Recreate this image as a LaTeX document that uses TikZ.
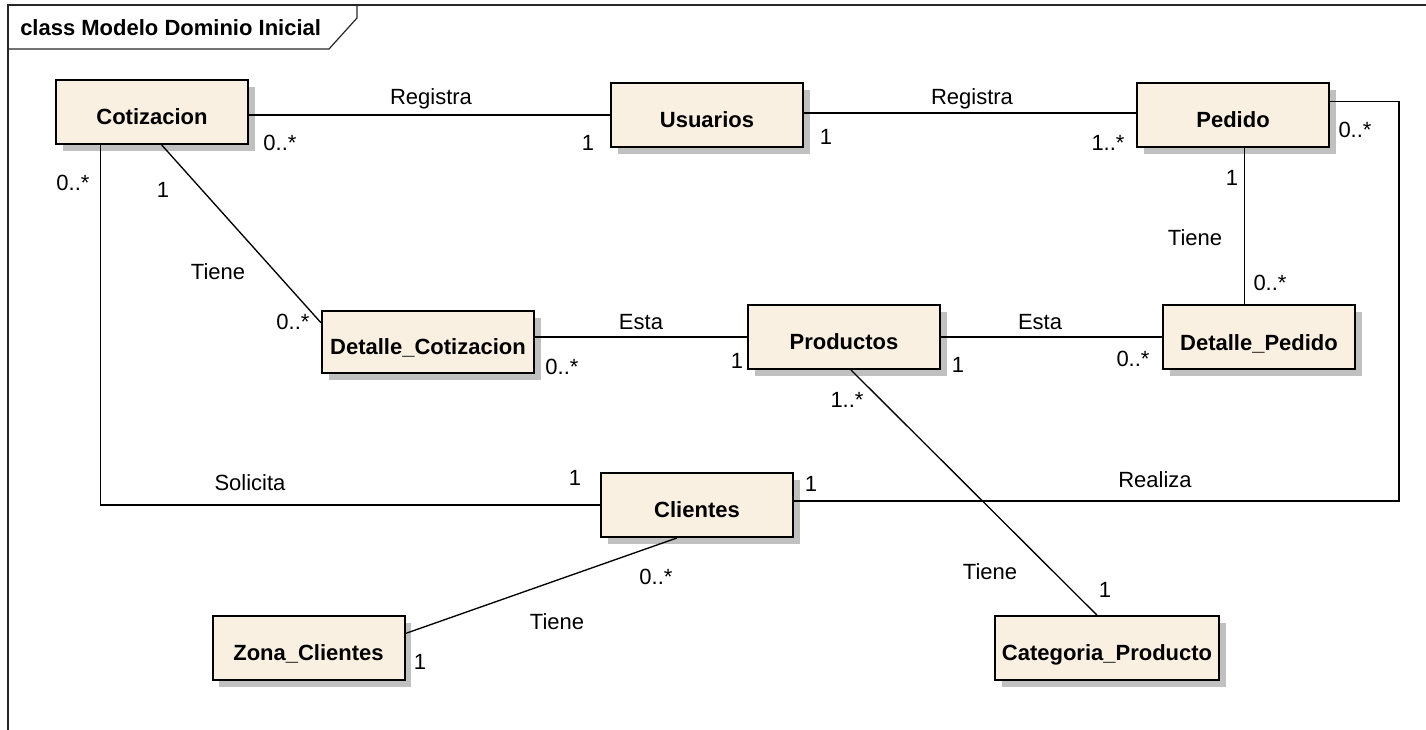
\documentclass[tikz,border=0pt]{standalone}
\usepackage{fontspec}
\setmainfont{Liberation Sans}
\usetikzlibrary{shadows,calc}
\definecolor{clsfill}{RGB}{250,240,226}
\definecolor{shadowgray}{RGB}{192,192,192}
\tikzset{
  cls/.style={draw=black, line width=1.5pt, fill=clsfill, inner sep=0pt,
    minimum width=144pt, minimum height=48pt, text height=19pt, text depth=0pt,
    font=\fontsize{16.5pt}{19pt}\selectfont\bfseries,
    drop shadow={shadow xshift=5pt, shadow yshift=-5pt, fill=shadowgray, opacity=1}},
  assoc/.style={draw=black, line width=1pt},
  lbl/.style={inner sep=0pt, font=\fontsize{16.5pt}{19pt}\selectfont},
  framel/.style={draw=black!85, line width=0.9pt}
}
\begin{document}
\begin{tikzpicture}[x=0.75pt, y=-0.75pt]
\useasboundingbox (0,0) rectangle (1426,730);

% diagram frame with name tab
\draw[framel] (1426,5) -- (8,5) -- (8,730);
\draw[framel] (8,49) -- (329,49) -- (357,18) -- (357,5);
\node[lbl, anchor=west, font=\fontsize{16.5pt}{19pt}\selectfont\bfseries] (title) at (20,28) {class Modelo Dominio Inicial};

% classes
\node[cls] (cot) at (152,112) {Cotizacion};
\node[cls] (usu) at (707,115) {Usuarios};
\node[cls] (ped) at (1233,115) {Pedido};
\node[cls, minimum width=159pt, minimum height=46.5pt] (dc) at (428,342) {Detalle\_Cotizacion};
\node[cls] (prod) at (844,337) {Productos};
\node[cls] (dp) at (1259,337.5) {Detalle\_Pedido};
\node[cls] (cli) at (697,505) {Clientes};
\node[cls] (zona) at (308.5,648) {Zona\_Clientes};
\node[cls, minimum width=168pt] (cat) at (1107,648) {Categoria\_Producto};

% associations
\draw[assoc] (cot.east |- usu.west) -- (usu.west);
\draw[assoc] ($(usu.east)+(0,-2)$) -- ($(ped.west)+(0,-2)$);
\coordinate (pedR) at ($(ped.north east)!0.3!(ped.south east)$);
\coordinate (loopTop) at (1399,0);
\coordinate (loopBot) at (0,501);
\draw[assoc] (pedR) -- (pedR -| loopTop) -- (loopTop |- loopBot) -- (cli.east |- loopBot);
\coordinate (pedB) at ($(ped.south west)!0.56!(ped.south east)$);
\draw[assoc] (pedB) -- (pedB |- dp.north);
\draw[assoc] ($(cot.south west)!0.55!(cot.south east)$) -- ($(dc.north west)!0.2!(dc.south west)$);
\draw[assoc] (dc.east |- prod.west) -- (prod.west);
\draw[assoc] (prod.east) -- (prod.east -| dp.west);
\draw[assoc] ($(prod.south west)!0.536!(prod.south east)$) -- ($(cat.north west)!0.455!(cat.north east)$);
\coordinate (cotB) at ($(cot.south west)!0.234!(cot.south east)$);
\draw[assoc] (cotB) -- (cotB |- cli.west) -- (cli.west);
\draw[assoc] ($(cli.south west)!0.396!(cli.south east)$) -- ($(zona.north east)!0.28!(zona.south east)$);

% association names and multiplicities
\node[lbl] (l1) at (431,99) {Registra};
\node[lbl] (m1a) at (280,143) {0..*};
\node[lbl] (m1b) at (588,143) {1};
\node[lbl] (l2) at (972,99) {Registra};
\node[lbl] (m2a) at (826,137) {1};
\node[lbl] (m2b) at (1108,143) {1..*};
\node[lbl] (m3a) at (1355,130) {0..*};
\node[lbl] (l3) at (1155,480) {Realiza};
\node[lbl] (m3b) at (811,484) {1};
\node[lbl] (m4a) at (1232,178) {1};
\node[lbl] (l4) at (1195,238) {Tiene};
\node[lbl] (m4b) at (1270,283) {0..*};
\node[lbl] (m5a) at (73,183) {0..*};
\node[lbl] (l5) at (250,483) {Solicita};
\node[lbl] (m5b) at (575,478) {1};
\node[lbl] (m6a) at (163,190) {1};
\node[lbl] (l6) at (218,272) {Tiene};
\node[lbl] (m6b) at (293,322) {0..*};
\node[lbl] (l7) at (641,322) {Esta};
\node[lbl] (m7a) at (562,367) {0..*};
\node[lbl] (m7b) at (737,361) {1};
\node[lbl] (l8) at (1040,322) {Esta};
\node[lbl] (m8a) at (958,365) {1};
\node[lbl] (m8b) at (1133,359) {0..*};
\node[lbl] (m9a) at (847,400) {1..*};
\node[lbl] (l9) at (990,572) {Tiene};
\node[lbl] (m9b) at (1105,590) {1};
\node[lbl] (m10a) at (656,577) {0..*};
\node[lbl] (l10) at (557,622) {Tiene};
\node[lbl] (m10b) at (420,662) {1};
\end{tikzpicture}
\end{document}
